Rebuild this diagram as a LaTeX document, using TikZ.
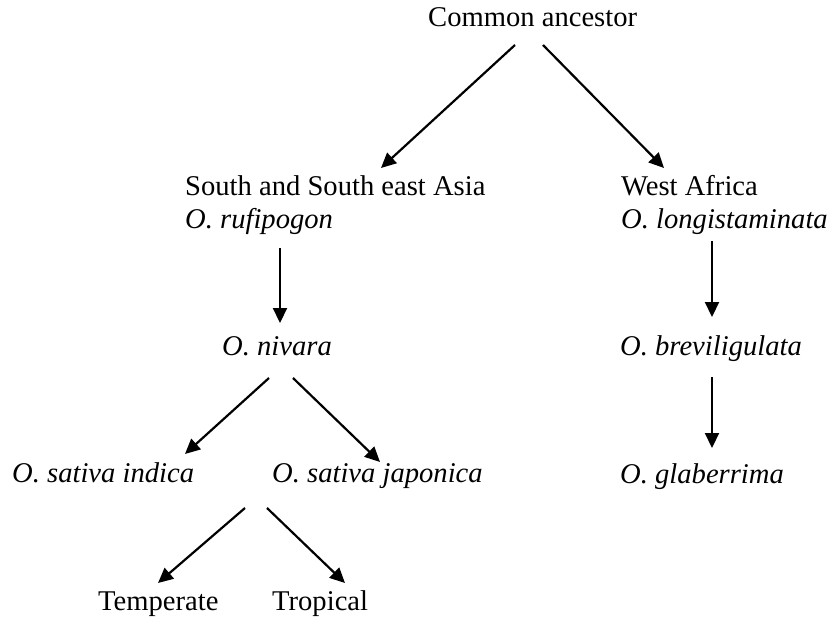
\documentclass[tikz,border=0pt]{standalone}
\usepackage{fontspec}
\setmainfont{Liberation Serif}
\usepackage{tikz}
\usetikzlibrary{arrows.meta}

\tikzset{
    taxon/.style={anchor=base west,inner sep=0pt,font=\fontsize{28.6}{34}\selectfont},
    specie/.style={taxon,font=\fontsize{28.6}{34}\selectfont\itshape},
    freccia/.style={line width=2.2pt,-{Triangle[length=15pt,width=14pt]}}
}

\begin{document}
\begin{tikzpicture}[x=1pt,y=-1pt]

        % Cornice
    \useasboundingbox (0,0) rectangle (831,618);

        % Antenato comune
    \node[taxon] (antenato) at (428,27) {Common ancestor};

        % Ramo asiatico
    \node[taxon]  (asia)     at (185,195) {South and South east Asia};
    \node[specie] (rufipogon) at (185,228) {O. rufipogon};
    \node[specie] (nivara)   at (222,355) {O. nivara};
    \node[specie] (indica)   at (12,482)  {O. sativa indica};
    \node[specie] (japonica) at (272,482) {O. sativa japonica};
    \node[taxon]  (temperate) at (98,610) {Temperate};
    \node[taxon]  (tropical) at (272,610) {Tropical};

        % Ramo africano
    \node[taxon]  (africa)   at (621,195) {West Africa};
    \node[specie] (longi)    at (621,228) {O. longistaminata};
    \node[specie] (brevi)    at (620,355) {O. breviligulata};
    \node[specie] (glaber)   at (620,483) {O. glaberrima};

        % Frecce
    \draw[freccia] ([shift={(87,18)}]antenato.base west) -- ([shift={(196,-27)}]asia.base west);
    \draw[freccia] ([shift={(115,18)}]antenato.base west) -- ([shift={(43,-27)}]africa.base west);
    \draw[freccia] ([shift={(95,20)}]rufipogon.base west) -- ([shift={(58,-32)}]nivara.base west);
    \draw[freccia] ([shift={(91,13)}]longi.base west) -- ([shift={(92,-38)}]brevi.base west);
    \draw[freccia] ([shift={(92,22)}]brevi.base west) -- ([shift={(92,-35)}]glaber.base west);
    \draw[freccia] ([shift={(47,23)}]nivara.base west) -- ([shift={(173,-28)}]indica.base west);
    \draw[freccia] ([shift={(71,23)}]nivara.base west) -- ([shift={(108,-20)}]japonica.base west);
    \draw[freccia] ([shift={(-27,26)}]japonica.base west) -- ([shift={(60,-27)}]temperate.base west);
    \draw[freccia] ([shift={(-5,26)}]japonica.base west) -- ([shift={(73,-27)}]tropical.base west);

\end{tikzpicture}
\end{document}
